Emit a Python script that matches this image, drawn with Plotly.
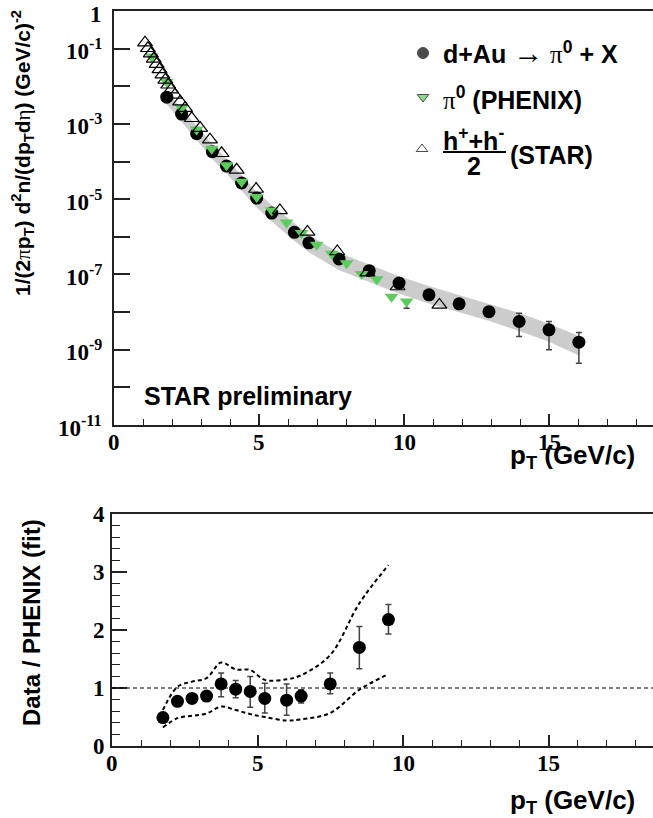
import plotly.graph_objects as go

# ---- top panel: invariant yields (stored as log10 values) ----
dau_pt = [1.82, 2.33, 2.85, 3.39, 3.88, 4.40, 4.92, 5.44, 6.22, 6.72, 7.76, 8.80,
          9.83, 10.86, 11.90, 12.93, 13.97, 15.0, 16.03]
dau_logy = [-2.29, -2.74, -3.26, -3.74, -4.12, -4.57, -4.97, -5.37, -5.88, -6.16,
            -6.59, -6.90, -7.23, -7.54, -7.78, -7.99, -8.25, -8.47, -8.80]
dau_logup = [-2.29, -2.74, -3.26, -3.70, -4.12, -4.57, -4.97, -5.37, -5.88, -6.16,
             -6.59, -6.90, -7.23, -7.54, -7.78, -7.99, -8.03, -8.25, -8.54]
dau_logdn = [-2.29, -2.74, -3.26, -3.79, -4.12, -4.57, -4.97, -5.37, -5.88, -6.16,
             -6.59, -6.90, -7.23, -7.54, -7.78, -7.99, -8.65, -9.00, -9.36]

phx_pt = [1.30, 1.82, 2.33, 2.85, 3.37, 3.88, 4.40, 4.92, 5.44, 5.95, 6.47, 6.99,
          7.51, 8.02, 8.54, 9.06, 9.57, 10.09]
phx_logy = [-1.21, -1.88, -2.58, -3.15, -3.66, -4.10, -4.54, -4.94, -5.30, -5.62,
            -5.90, -6.21, -6.45, -6.70, -6.99, -7.13, -7.59, -7.72]
phx_logdn = [-1.21, -1.88, -2.58, -3.15, -3.66, -4.10, -4.54, -4.94, -5.30, -5.62,
             -5.90, -6.21, -6.45, -6.70, -6.99, -7.13, -7.59, -7.90]

star_pt = [1.07, 1.17, 1.27, 1.37, 1.47, 1.57, 1.67, 1.77, 1.87, 1.97, 2.10, 2.28,
           2.45, 2.68, 2.97, 3.31, 3.71, 4.23, 4.90, 5.72, 6.67, 7.70, 8.74, 9.78, 11.22]
star_logy = [-0.84, -0.99, -1.13, -1.27, -1.41, -1.55, -1.69, -1.83, -1.96, -2.09,
             -2.23, -2.41, -2.58, -2.85, -3.11, -3.42, -3.78, -4.22, -4.73, -5.30,
             -5.87, -6.39, -6.95, -7.32, -7.81]

band_pt = [1.8, 2.3, 2.85, 3.4, 3.9, 4.4, 4.9, 5.45, 6.2, 6.7, 7.75, 8.8, 9.8,
           10.85, 11.9, 12.95, 14.0, 15.0, 16.05]
band_loghi = [-2.12, -2.57, -3.07, -3.55, -3.94, -4.37, -4.79, -5.16, -5.64, -5.94,
              -6.42, -6.74, -7.04, -7.31, -7.55, -7.78, -8.03, -8.31, -8.64]
band_loglo = [-2.46, -2.92, -3.45, -3.94, -4.34, -4.77, -5.21, -5.60, -6.10, -6.40,
              -6.88, -7.20, -7.50, -7.77, -8.01, -8.24, -8.51, -8.79, -9.16]

# ---- bottom panel: data / PHENIX fit ----
rat_pt = [1.75, 2.25, 2.75, 3.25, 3.75, 4.25, 4.75, 5.25, 6.0, 6.5, 7.5, 8.5, 9.5]
rat_y = [0.49, 0.77, 0.82, 0.86, 1.07, 0.98, 0.94, 0.82, 0.79, 0.86, 1.07, 1.70, 2.18]
rat_hi = [0.49, 0.77, 0.82, 0.86, 1.26, 1.13, 1.20, 1.08, 1.07, 0.97, 1.26, 2.06, 2.44]
rat_lo = [0.49, 0.77, 0.82, 0.86, 0.85, 0.83, 0.67, 0.57, 0.53, 0.74, 0.90, 1.33, 1.93]
sys_hi = [0.62, 1.02, 1.11, 1.17, 1.44, 1.32, 1.31, 1.14, 1.15, 1.22, 1.57, 2.46, 3.12]
sys_lo = [0.32, 0.48, 0.52, 0.56, 0.68, 0.62, 0.55, 0.50, 0.44, 0.46, 0.57, 0.97, 1.24]

# tick labels
x_ticks = [0, 5, 10, 15]
top_y_exp = [0, -1, -3, -5, -7, -9, -11]
bot_y_ticks = [0, 1, 2, 3, 4]

W, H = 653, 818
GREEN = "#5ccc5c"
SERIF = "Liberation Serif"
SANS = "Liberation Sans"

def p(v):
    return [10.0 ** a for a in v]

dau_y = p(dau_logy)
phx_y = p(phx_logy)

fig = go.Figure()

# fit band
fig.add_trace(go.Scatter(x=band_pt, y=p(band_loghi), mode="lines", line=dict(width=0),
                         xaxis="x", yaxis="y", hoverinfo="skip"))
fig.add_trace(go.Scatter(x=band_pt, y=p(band_loglo), mode="lines", line=dict(width=0),
                         fill="tonexty", fillcolor="#cccccc", xaxis="x", yaxis="y"))

fig.add_trace(go.Scatter(
    x=dau_pt, y=dau_y, mode="markers", xaxis="x", yaxis="y",
    marker=dict(symbol="circle", size=13, color="black"),
    error_y=dict(type="data", symmetric=False,
                 array=[u - c for u, c in zip(p(dau_logup), dau_y)],
                 arrayminus=[c - d for c, d in zip(dau_y, p(dau_logdn))],
                 color="#444", thickness=1.5, width=3)))
fig.add_trace(go.Scatter(
    x=phx_pt, y=phx_y, mode="markers", xaxis="x", yaxis="y",
    marker=dict(symbol="triangle-down", size=12, color=GREEN),
    error_y=dict(type="data", symmetric=False, array=[0.0] * len(phx_pt),
                 arrayminus=[c - d for c, d in zip(phx_y, p(phx_logdn))],
                 color="#444", thickness=1.5, width=3)))
fig.add_trace(go.Scatter(
    x=star_pt, y=p(star_logy), mode="markers", xaxis="x", yaxis="y",
    marker=dict(symbol="triangle-up-open", size=13, color="black", line=dict(width=1.2))))

# bottom panel
fig.add_trace(go.Scatter(x=rat_pt, y=sys_hi, mode="lines", xaxis="x2", yaxis="y2",
                         line=dict(color="black", width=2, dash="4px,3px", shape="spline")))
fig.add_trace(go.Scatter(x=rat_pt, y=sys_lo, mode="lines", xaxis="x2", yaxis="y2",
                         line=dict(color="black", width=2, dash="4px,3px", shape="spline")))
fig.add_trace(go.Scatter(
    x=rat_pt, y=rat_y, mode="markers", xaxis="x2", yaxis="y2",
    marker=dict(symbol="circle", size=13, color="black"),
    error_y=dict(type="data", symmetric=False,
                 array=[h - c for h, c in zip(rat_hi, rat_y)],
                 arrayminus=[c - l for c, l in zip(rat_y, rat_lo)],
                 color="#444", thickness=1.5, width=3)))

# legend markers in a pixel-space overlay
fig.add_trace(go.Scatter(x=[423, 423, 422], y=[H - 53, H - 97, H - 149], mode="markers",
                         xaxis="x3", yaxis="y3",
                         marker=dict(symbol=["circle", "triangle-down", "triangle-up-open"],
                                     size=[11, 10, 10], color=["black", GREEN, "black"],
                                     line=dict(width=1, color="black"))))

x0t, x0b = 114, 112
xr_top = (W - x0t) / 29.0
xr_bot = (W - x0b) / 29.1

dec = [10.0 ** -k for k in range(0, 12)]
minor_log = [5 * 10.0 ** -k for k in range(1, 12)]

LC = "#222"
ydom_top = [(H - 425) / H, (H - 11) / H]
ydom_bot = [(H - 746) / H, (H - 514) / H]

fig.update_layout(
    width=W, height=H, margin=dict(l=0, r=0, t=0, b=0),
    paper_bgcolor="white", plot_bgcolor="rgba(0,0,0,0)", showlegend=False,
    xaxis=dict(domain=[x0t / W, 1], range=[0, xr_top], anchor="y",
               showgrid=False, zeroline=False, showline=True, mirror=True,
               linecolor=LC, linewidth=2, ticks="inside", ticklen=11, tickwidth=1.5,
               tickcolor=LC, tickmode="array", tickvals=x_ticks, showticklabels=False,
               minor=dict(dtick=1, ticklen=6, tickwidth=1.2, tickcolor=LC, ticks="inside")),
    yaxis=dict(domain=ydom_top, type="log", range=[-11, 0],
               anchor="x", showgrid=False, zeroline=False, showline=True,
               linecolor=LC, linewidth=2, ticks="inside", ticklen=16, tickwidth=1.5,
               tickcolor=LC, tickmode="array", tickvals=dec, showticklabels=False),
    yaxis4=dict(domain=ydom_top, type="log", range=[-11, 0], overlaying="y", anchor="x",
                showgrid=False, zeroline=False, showline=False, ticks="inside",
                ticklen=8, tickwidth=1.2, tickcolor=LC, tickmode="array",
                tickvals=minor_log, showticklabels=False),
    xaxis2=dict(domain=[x0b / W, 1], range=[0, xr_bot], anchor="y2",
                showgrid=False, zeroline=False, showline=True, mirror=True,
                linecolor=LC, linewidth=2, ticks="inside", ticklen=11, tickwidth=1.5,
                tickcolor=LC, tickmode="array", tickvals=x_ticks, showticklabels=False,
                minor=dict(dtick=1, ticklen=6, tickwidth=1.2, tickcolor=LC, ticks="inside")),
    yaxis2=dict(domain=ydom_bot, range=[0, 4], anchor="x2",
                showgrid=False, zeroline=False, showline=True,
                linecolor=LC, linewidth=2, ticks="inside", ticklen=15, tickwidth=1.5,
                tickcolor=LC, tickmode="array", tickvals=bot_y_ticks, showticklabels=False,
                minor=dict(dtick=0.2, ticklen=8, tickwidth=1.2, tickcolor=LC, ticks="inside")),
    xaxis3=dict(domain=[0, 1], range=[0, W], visible=False, anchor="y3"),
    yaxis3=dict(domain=[0, 1], range=[0, H], visible=False, anchor="x3"),
)

# reference line at ratio 1
fig.add_shape(type="line", xref="x2", yref="y2", x0=0, x1=xr_bot, y0=1, y1=1,
              line=dict(color="black", width=1, dash="4px,3px"))

# tick labels as serif bold text
nfont = dict(family=SERIF, size=23, color="black")
for v in x_ticks:
    fig.add_annotation(x=v, xref="x", y=1 - 442 / H, yref="paper", text="<b>%d</b>" % v,
                       showarrow=False, xanchor="center", yanchor="middle", font=nfont)
    fig.add_annotation(x=v, xref="x2", y=1 - 763 / H, yref="paper", text="<b>%d</b>" % v,
                       showarrow=False, xanchor="center", yanchor="middle", font=nfont)
for e in top_y_exp:
    txt = "<b>1</b>" if e == 0 else "<b>10<sup>%d</sup></b>" % e
    fig.add_annotation(x=104 / W, xref="paper", y=e, yref="y", text=txt, showarrow=False,
                       xanchor="right", yanchor="middle", font=nfont,
                       yshift=(-3 if e == 0 else -1))
for v in bot_y_ticks:
    fig.add_annotation(x=107 / W, xref="paper", y=v, yref="y2", text="<b>%d</b>" % v,
                       showarrow=False, xanchor="right", yanchor="middle", font=nfont)

tfont = dict(family=SANS, size=25, color="black")
sym = "<span style='font-family:Liberation Serif;font-weight:normal'>%s</span>"
arrow = "<span style='font-family:Liberation Serif;font-weight:normal;font-size:30px'>\u2192</span>"


def ann(x, y, text, xanchor="left", yanchor="middle", angle=0, font=tfont):
    fig.add_annotation(x=x / W, y=1 - y / H, xref="paper", yref="paper", text=text,
                       showarrow=False, xanchor=xanchor, yanchor=yanchor,
                       textangle=angle, font=font)


ann(441, 53, "<b>d+Au " + arrow + " " + sym % "\u03c0" + "<sup>0</sup> + X</b>")
ann(441, 98, "<b>" + sym % "\u03c0" + "<sup>0</sup> (PHENIX)</b>")
ann(441, 139, "<b>h<sup>+</sup>+h<sup>-</sup></b>")
ann(474, 166, "<b>2</b>", xanchor="center")
ann(508, 155, "<b>(STAR)</b>")
fig.add_shape(type="line", xref="paper", yref="paper", x0=443 / W, x1=506 / W,
              y0=1 - 152 / H, y1=1 - 152 / H, line=dict(color="black", width=2))

ann(142, 396, "<b>STAR preliminary</b>")
ann(637, 456, "<b>p<sub>T</sub> (GeV/c)</b>", xanchor="right",
    font=dict(family=SANS, size=26, color="black"))
ann(637, 801, "<b>p<sub>T</sub> (GeV/c)</b>", xanchor="right",
    font=dict(family=SANS, size=26, color="black"))
ann(22, 153, "<b>1/(2" + sym % "\u03c0" + "p<sub>T</sub>) d<sup>2</sup>n/(dp<sub>T</sub>d"
    + sym % "\u03b7" + ") (GeV/c)<sup>-2</sup></b>", xanchor="center", angle=-90,
    font=dict(family=SANS, size=21, color="black"))
ann(31, 623, "<b>Data / PHENIX (fit)</b>", xanchor="center", angle=-90,
    font=dict(family=SANS, size=24, color="black"))

fig.write_html("out.html", config={"displayModeBar": False},
               post_script="document.body.style.margin='0';")
